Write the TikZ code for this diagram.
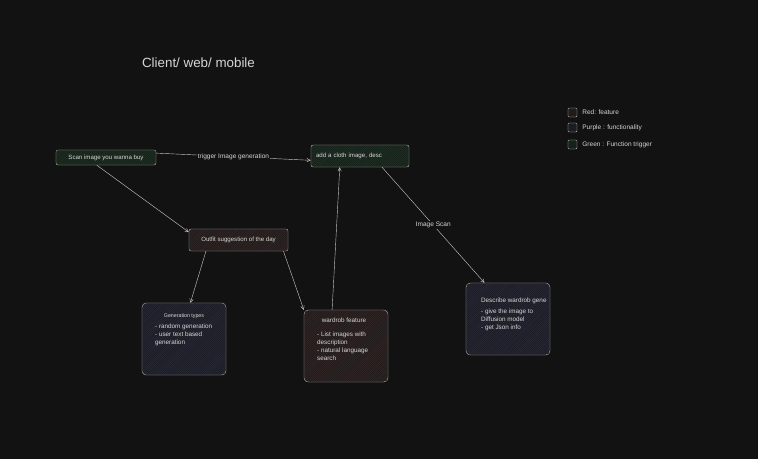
\documentclass[tikz,border=0pt]{standalone}
\usepackage{fontspec}
\setmainfont{Liberation Sans}
\usepackage{xcolor}
\usepackage{tikz}
\usetikzlibrary{arrows.meta, positioning, patterns}
\definecolor{canvas}{HTML}{121212}
\definecolor{ink}{HTML}{D6D6D6}
\definecolor{edge}{HTML}{C4C4C4}
\definecolor{redfill}{HTML}{221B1B}
\definecolor{purplefill}{HTML}{1C1C25}
\definecolor{greenfill}{HTML}{16211A}
\definecolor{redhatch}{HTML}{3A2C2C}
\definecolor{purplehatch}{HTML}{30303F}
\definecolor{greenhatch}{HTML}{253829}
\tikzstyle{feature} = [rectangle, rounded corners=3pt, draw=edge, line width=0.6pt, fill=redfill, postaction={pattern=north east lines, pattern color=redhatch}, text=ink, font=\fontsize{8.7}{11}\selectfont]
\tikzstyle{functionality} = [rectangle, rounded corners=6pt, draw=edge, line width=0.6pt, fill=purplefill, postaction={pattern=north east lines, pattern color=purplehatch}, minimum width=4.2cm, minimum height=3.6cm]
\tikzstyle{trigger} = [rectangle, rounded corners=3pt, draw=edge, line width=0.6pt, fill=greenfill, postaction={pattern=north east lines, pattern color=greenhatch}, text=ink, font=\fontsize{8.7}{11}\selectfont]
\tikzstyle{boxtext} = [text=ink, align=left, inner sep=0pt, font=\fontsize{9}{11.3}\selectfont]
\tikzstyle{legendbox} = [rectangle, rounded corners=1.5pt, draw=edge, line width=0.6pt, minimum size=0.45cm, inner sep=0pt]
\tikzstyle{legendtext} = [text=ink, inner sep=0pt, font=\fontsize{9.3}{11}\selectfont]
\tikzstyle{arrow} = [line width=0.6pt, draw=edge, -{Straight Barb[length=5pt, width=5pt]}]
\tikzstyle{tag} = [fill=canvas, text=ink, inner sep=1.5pt, font=\fontsize{9.3}{11}\selectfont]

\begin{document}
\begin{tikzpicture}[x=0.05cm, y=-0.05cm]
    \fill [canvas] (0,0) rectangle (758,459);
    \useasboundingbox (0,0) rectangle (758,459);

    \node (title) [text=ink, font=\fontsize{19}{22}\selectfont] at (198.5,63) {Client/ web/ mobile};

    % legend
    \node (legred) [legendbox, fill=redfill] at (572.5,112.5) {};
    \node (legpurple) [legendbox, fill=purplefill] at (572.5,127.5) {};
    \node (leggreen) [legendbox, fill=greenfill] at (572.5,144.5) {};
    \node (legredtext) [legendtext, right=0.25cm of legred] {Red: feature};
    \node (legpurpletext) [legendtext, right=0.25cm of legpurple] {Purple : functionality};
    \node (leggreentext) [legendtext, right=0.25cm of leggreen] {Green : Function trigger};

    % boxes
    \node (scan) [trigger, minimum width=5cm, minimum height=0.75cm] at (106,157.5) {Scan image you wanna buy};
    \node (cloth) [trigger, minimum width=4.9cm, minimum height=1.1cm, text width=4.4cm, align=left] at (360,156) {add a cloth image, desc};
    \node (outfit) [feature, minimum width=4.95cm, minimum height=1.1cm] at (238.5,240) {Outfit suggestion of the day};
    \node (gen) [functionality] at (184,339) {};
    \node (wardrob) [feature, rounded corners=6pt, minimum width=4.2cm, minimum height=3.6cm] at (346,346) {};
    \node (describe) [functionality] at (508,319) {};

    \node (gentitle) [boxtext, font=\fontsize{7.5}{9}\selectfont] at (184,316) {Generation types};
    \node (genlist) [boxtext, anchor=north west] at (155,324) {- random generation\\- user text based\\generation};
    \node (wardrobtitle) [boxtext] at (344,320) {wardrob feature};
    \node (wardroblist) [boxtext, anchor=north west] at (317,332) {- List images with\\description\\- natural language\\search};
    \node (describetitle) [boxtext, anchor=west] at (481,301) {Describe wardrob gene};
    \node (describelist) [boxtext, anchor=north west] at (481,309) {- give the image to\\Diffusion model\\- get Json info};

    % connectors
    \draw [arrow] (scan.5) -- node[tag] {trigger Image generation} (cloth.185);
    \draw [arrow] (scan.220) -- (outfit.171);
    \draw [arrow] (outfit.199) -- (gen.80);
    \draw [arrow] (outfit.346) -- (wardrob.north west);
    \draw [arrow] (wardrob.111) -- (cloth.209);
    \draw [arrow] (cloth.333) -- node[tag] {Image Scan} (describe.123);
\end{tikzpicture}
\end{document}
